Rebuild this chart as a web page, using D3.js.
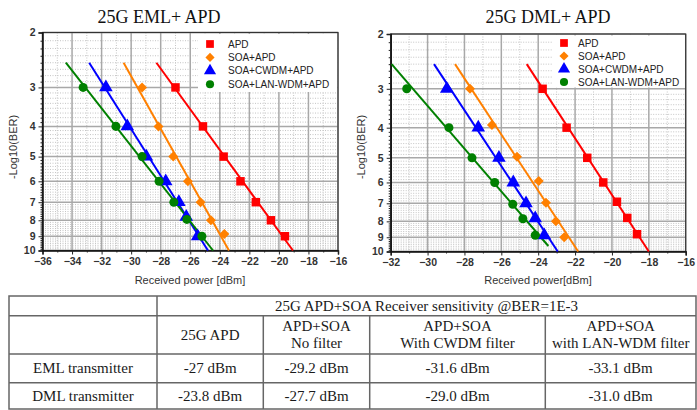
<!DOCTYPE html>
<html>
<head>
<meta charset="utf-8">
<script src="https://cdn.jsdelivr.net/npm/d3@7"></script>
<style>
  body { margin: 0; background: #fff; }
  svg text { font-family: Arial, "Liberation Sans", sans-serif; }
  .serif { font-family: "Liberation Serif", "Times New Roman", serif !important; }
</style>
</head>
<body>
<svg id="chart"></svg>
<script>
var width = 697,
  height = 410;

// series shared by both panels
var seriesNames = ['APD', 'SOA+APD', 'SOA+CWDM+APD', 'SOA+LAN-WDM+APD'];
var seriesColors = ['#ff0000', '#ff8000', '#0000ff', '#008000'];
var seriesSymbols = [d3.symbolSquare, d3.symbolSquare, d3.symbolTriangle, d3.symbolCircle];
var seriesRotate = [0, 45, 0, 0];   // diamond = square turned 45 deg

var yTicks = [2, 3, 4, 5, 6, 7, 8, 9, 10];

// 25G EML + APD : [received power dBm, -log10(BER)]
var emlApd = [[-27.0, 3], [-25.14, 4], [-23.74, 5], [-22.6, 6], [-21.56, 7], [-20.54, 8], [-19.59, 9]];
var emlSoa = [[-29.26, 3], [-28.15, 4], [-27.15, 5], [-26.16, 6], [-25.3, 7], [-24.6, 8], [-23.69, 8.85]];
var emlCwdm = [[-31.71, 3], [-30.26, 4], [-28.97, 5], [-27.66, 6], [-26.77, 7], [-26.27, 7.8], [-25.5, 9]];
var emlLan = [[-33.25, 3], [-31.03, 4], [-29.26, 5], [-28.11, 6], [-27.11, 7], [-26.23, 7.95], [-25.21, 9]];
var emlFits = [
  [[-28.29, 2.5], [-19.05, 10]],
  [[-30.51, 2.5], [-23.38, 10]],
  [[-32.84, 2.5], [-24.8, 10]],
  [[-34.42, 2.5], [-24.46, 10]]
];

// 25G DML + APD
var dmlApd = [[-23.76, 3], [-22.46, 4], [-21.34, 5], [-20.47, 6], [-19.73, 6.92], [-19.17, 7.8], [-18.64, 8.8]];
var dmlSoa = [[-27.7, 3], [-26.51, 3.92], [-25.15, 4.96], [-23.97, 5.93], [-23.58, 6.97], [-23.04, 8], [-22.59, 9]];
var dmlCwdm = [[-28.96, 3], [-27.25, 4], [-26.13, 5], [-25.35, 6], [-24.66, 7], [-24.16, 7.82], [-23.67, 8.87]];
var dmlLan = [[-31.13, 3], [-28.84, 4], [-27.59, 5], [-26.36, 6], [-25.38, 7.05], [-24.83, 7.85], [-24.16, 8.87]];
var dmlFits = [
  [[-24.62, 2.5], [-18.0, 10]],
  [[-28.51, 2.5], [-21.83, 10]],
  [[-29.65, 2.5], [-22.94, 10]],
  [[-31.95, 2.5], [-23.45, 9.6]]
];

// sensitivity table
var tableTitle = '25G APD+SOA Receiver sensitivity @BER=1E-3';
var tableColumns = [['25G APD'], ['APD+SOA', 'No filter'], ['APD+SOA', 'With CWDM filter'], ['APD+SOA', 'with LAN-WDM filter']];
var tableRowNames = ['EML transmitter', 'DML transmitter'];
var tableValues = [
  ['-27 dBm', '-29.2 dBm', '-31.6 dBm', '-33.1 dBm'],
  ['-23.8 dBm', '-27.7 dBm', '-29.0 dBm', '-31.0 dBm']
];

var svg = d3.select('#chart')
  .attr('width', width)
  .attr('height', height);

function symbolPath(i, big) {
  var sizes = big ? [72, 50, 80, 64] : [60, 42, 64, 52];
  return d3.symbol().type(seriesSymbols[i]).size(sizes[i])();
}

function drawPanel(opt) {
  var x = d3.scaleLinear().domain(opt.xDomain).range([opt.left, opt.right]);
  var y = d3.scaleLog().domain([2, 10]).range([opt.top, opt.bottom]);
  var g = svg.append('g');

  // minor grid
  var xMinor = d3.range(opt.xDomain[0] + 1, opt.xDomain[1], 2);
  var yMinor = d3.range(2, 10, 0.125).filter(function(d) { return d % 1 !== 0; });

  g.selectAll('.vminor').data(xMinor).enter().append('line')
    .attr('x1', function(d) { return x(d); }).attr('x2', function(d) { return x(d); })
    .attr('y1', opt.top).attr('y2', opt.bottom)
    .attr('stroke', '#c4c4c4').attr('stroke-width', 1).attr('stroke-dasharray', '1,1.5');
  g.selectAll('.hminor').data(yMinor).enter().append('line')
    .attr('x1', opt.left).attr('x2', opt.right)
    .attr('y1', function(d) { return y(d); }).attr('y2', function(d) { return y(d); })
    .attr('stroke', '#c4c4c4').attr('stroke-width', 1).attr('stroke-dasharray', '1,1.5');

  // major grid
  var xMajor = d3.range(opt.xDomain[0], opt.xDomain[1] + 1, 2);
  g.selectAll('.vmajor').data(xMajor).enter().append('line')
    .attr('x1', function(d) { return x(d); }).attr('x2', function(d) { return x(d); })
    .attr('y1', opt.top).attr('y2', opt.bottom)
    .attr('stroke', '#a8a8a8').attr('stroke-width', 1.5);
  g.selectAll('.hmajor').data(yTicks).enter().append('line')
    .attr('x1', opt.left).attr('x2', opt.right)
    .attr('y1', function(d) { return y(d); }).attr('y2', function(d) { return y(d); })
    .attr('stroke', '#a8a8a8').attr('stroke-width', 1.5);

  // legend background
  g.append('rect')
    .attr('x', opt.legendX - 12).attr('y', opt.top + 1.5)
    .attr('width', opt.right - opt.legendX + 11).attr('height', opt.legendH)
    .attr('fill', '#fff');

  // frame
  g.append('rect')
    .attr('x', opt.left).attr('y', opt.top)
    .attr('width', opt.right - opt.left).attr('height', opt.bottom - opt.top)
    .attr('fill', 'none').attr('stroke', '#333').attr('stroke-width', 1.2);

  // axes
  var xAxis = g.append('g')
    .attr('transform', 'translate(0,' + opt.bottom + ')')
    .call(d3.axisBottom(x).tickValues(xMajor).tickSize(4).tickPadding(3).tickFormat(d3.format('d')));
  g.append('g')
    .attr('transform', 'translate(0,' + opt.bottom + ')')
    .call(d3.axisBottom(x).tickValues(xMinor).tickSize(2).tickFormat(''))
    .select('.domain').remove();
  var yAxis = g.append('g')
    .attr('transform', 'translate(' + opt.left + ',0)')
    .call(d3.axisLeft(y).tickValues(yTicks).tickSize(4).tickPadding(3).tickFormat(d3.format('d')));
  g.append('g')
    .attr('transform', 'translate(' + opt.left + ',0)')
    .call(d3.axisLeft(y).tickValues(yMinor).tickSize(2).tickFormat(''))
    .select('.domain').remove();

  [xAxis, yAxis].forEach(function(a) {
    a.select('.domain').attr('stroke', '#111').attr('stroke-width', 1.5);
    a.selectAll('.tick text')
      .attr('fill', '#333')
      .style('font-size', '10.5px')
      .style('font-weight', 'bold');
  });
  g.selectAll('.tick line').attr('stroke', '#222');

  // fitted lines
  var line = d3.line()
    .x(function(d) { return x(d[0]); })
    .y(function(d) { return y(d[1]); });
  g.selectAll('.fit').data(opt.fits).enter().append('path')
    .attr('d', line)
    .attr('fill', 'none')
    .attr('stroke', function(d, i) { return seriesColors[i]; })
    .attr('stroke-width', 2);

  // measured points
  opt.series.forEach(function(pts, i) {
    g.selectAll('.pt' + i).data(pts).enter().append('path')
      .attr('transform', function(d) {
        return 'translate(' + x(d[0]) + ',' + y(d[1]) + ')rotate(' + seriesRotate[i] + ')';
      })
      .attr('d', symbolPath(i, true))
      .attr('fill', seriesColors[i]);
  });

  // legend
  var leg = g.selectAll('.leg').data(seriesNames).enter().append('g')
    .attr('transform', function(d, i) { return 'translate(' + opt.legendX + ',' + (opt.legendY + i * opt.legendStep) + ')'; });
  leg.append('path')
    .attr('transform', function(d, i) { return 'rotate(' + seriesRotate[i] + ')'; })
    .attr('d', function(d, i) { return symbolPath(i, false); })
    .attr('fill', function(d, i) { return seriesColors[i]; });
  leg.append('text')
    .attr('x', opt.legendTextDx).attr('y', 3.5)
    .attr('fill', '#222')
    .style('font-size', '10px')
    .text(function(d) { return d; });

  // titles
  svg.append('text')
    .attr('class', 'serif')
    .attr('x', opt.titleX).attr('y', 23)
    .attr('text-anchor', 'middle')
    .attr('fill', '#111')
    .style('font-size', '18px')
    .text(opt.title);
  svg.append('text')
    .attr('x', opt.xLabelX).attr('y', 284)
    .attr('text-anchor', 'middle')
    .attr('fill', '#333')
    .style('font-size', '11px')
    .text(opt.xLabel);
  svg.append('text')
    .attr('transform', 'translate(' + opt.yLabelX + ',147)rotate(-90)')
    .attr('text-anchor', 'middle')
    .attr('fill', '#333')
    .style('font-size', '11px')
    .text('-Log10(BER)');
}

drawPanel({
  xDomain: [-36, -16], left: 42.5, right: 338, top: 32.5, bottom: 250.5,
  series: [emlApd, emlSoa, emlCwdm, emlLan], fits: emlFits,
  legendX: 210, legendY: 44, legendStep: 13.4, legendTextDx: 18, legendH: 58,
  title: '25G EML+ APD', titleX: 159,
  xLabel: 'Received power [dBm]', xLabelX: 190, yLabelX: 17
});

drawPanel({
  xDomain: [-32, -16], left: 390.7, right: 685.7, top: 34, bottom: 251.5,
  series: [dmlApd, dmlSoa, dmlCwdm, dmlLan], fits: dmlFits,
  legendX: 564, legendY: 43, legendStep: 13, legendTextDx: 14, legendH: 52,
  title: '25G DML+ APD', titleX: 548,
  xLabel: 'Received power[dBm]', xLabelX: 538, yLabelX: 365
});

// table
var colX = [9, 157, 263.3, 369.7, 545.3, 696];
var rowY = [296, 315.7, 354, 382.7, 409];
var t = svg.append('g').attr('class', 'table');

t.append('rect')
  .attr('x', colX[0]).attr('y', rowY[0])
  .attr('width', colX[5] - colX[0]).attr('height', rowY[4] - rowY[0])
  .attr('fill', 'none').attr('stroke', '#666').attr('stroke-width', 1.5);
t.selectAll('.hline').data(rowY.slice(1, 4)).enter().append('line')
  .attr('x1', colX[0]).attr('x2', colX[5])
  .attr('y1', function(d) { return d; }).attr('y2', function(d) { return d; })
  .attr('stroke', '#666').attr('stroke-width', 1.5);
t.append('line')
  .attr('x1', colX[1]).attr('x2', colX[1]).attr('y1', rowY[0]).attr('y2', rowY[4])
  .attr('stroke', '#666').attr('stroke-width', 1.5);
t.selectAll('.vline').data(colX.slice(2, 5)).enter().append('line')
  .attr('x1', function(d) { return d; }).attr('x2', function(d) { return d; })
  .attr('y1', rowY[1]).attr('y2', rowY[4])
  .attr('stroke', '#666').attr('stroke-width', 1.5);

function cellText(cx, cy, s) {
  t.append('text')
    .attr('class', 'serif')
    .attr('x', cx).attr('y', cy)
    .attr('text-anchor', 'middle')
    .attr('dominant-baseline', 'central')
    .attr('fill', '#1a1a1a')
    .style('font-size', '15px')
    .text(s);
}

cellText((colX[1] + colX[5]) / 2, (rowY[0] + rowY[1]) / 2 + 0.5, tableTitle);
tableColumns.forEach(function(lines, i) {
  var cx = (colX[i + 1] + colX[i + 2]) / 2;
  var cy = (rowY[1] + rowY[2]) / 2;
  if (lines.length === 1) {
    cellText(cx, cy, lines[0]);
  } else {
    cellText(cx, cy - 8.5, lines[0]);
    cellText(cx, cy + 8.5, lines[1]);
  }
});
tableRowNames.forEach(function(name, r) {
  var cy = (rowY[r + 2] + rowY[r + 3]) / 2;
  cellText((colX[0] + colX[1]) / 2, cy, name);
  tableValues[r].forEach(function(v, i) {
    cellText((colX[i + 1] + colX[i + 2]) / 2, cy, v);
  });
});
</script>
</body>
</html>
